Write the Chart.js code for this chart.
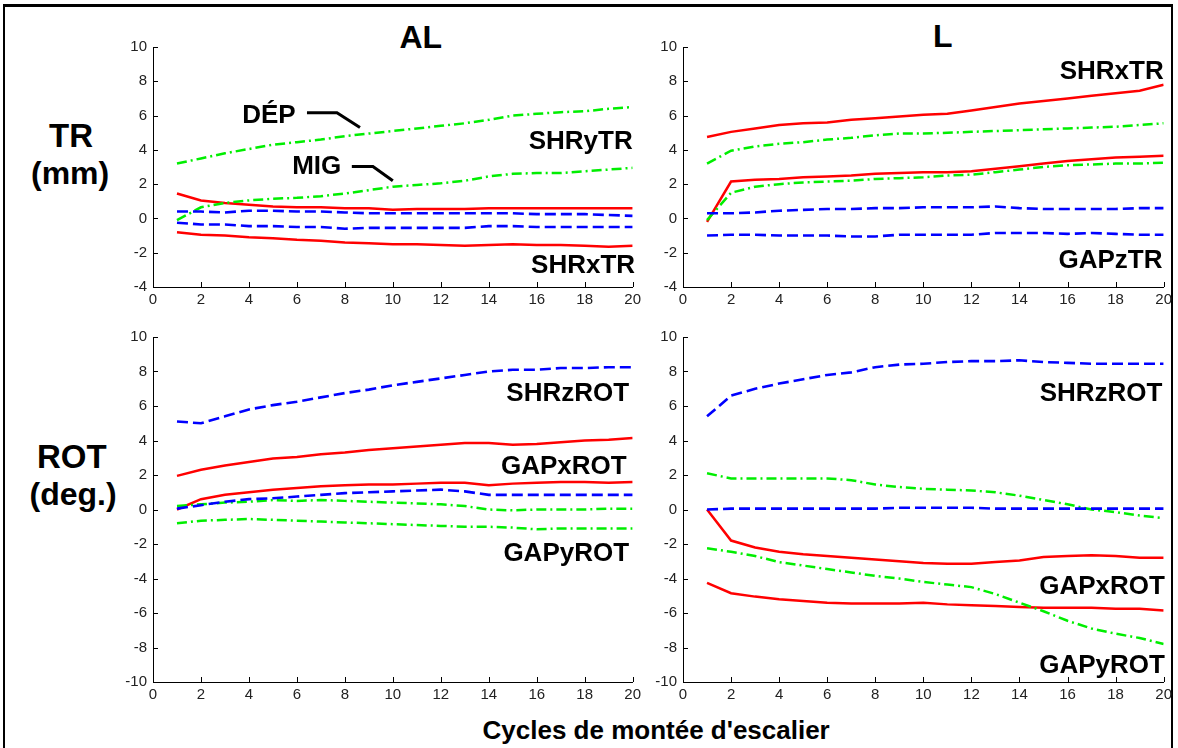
<!DOCTYPE html>
<html><head><meta charset="utf-8">
<script src="https://cdn.jsdelivr.net/npm/chart.js@4.4.0/dist/chart.umd.min.js"></script>
<style>
html,body{margin:0;padding:0;background:#fff;width:1178px;height:748px;overflow:hidden;font-family:"Liberation Sans",Arial,sans-serif;}
#frame{position:absolute;left:3px;top:4px;width:1166px;height:770px;border-top:3px solid #000;border-left:2px solid #000;border-right:2px solid #000;}
canvas{position:absolute;}
.lbl{position:absolute;font-weight:bold;color:#000;white-space:nowrap;line-height:1;}
</style></head><body>
<div id="frame"></div>
<div class="lbl" id="tAL" style="font-size:32px;">AL</div>
<div class="lbl" id="tL" style="font-size:32px;">L</div>
<div class="lbl" id="tTR" style="font-size:33px;">TR</div>
<div class="lbl" id="tMM" style="font-size:32px;">(mm)</div>
<div class="lbl" id="tROT" style="font-size:33px;">ROT</div>
<div class="lbl" id="tDEG" style="font-size:32px;">(deg.)</div>
<div class="lbl" id="tX" style="font-size:26px;">Cycles de montée d'escalier</div>
<canvas id="c1"></canvas><canvas id="c2"></canvas><canvas id="c3"></canvas><canvas id="c4"></canvas>
<script>
// ---------------- DATA ----------------
const cycles = [1,2,3,4,5,6,7,8,9,10,11,12,13,14,15,16,17,18,19,20];
const xTickStep = 2;
const yRangeTR = [-4, 10];
const yRangeROT = [-10, 10];

// AL - TR (mm)
const alTrDep  = [3.2,3.5,3.8,4.05,4.3,4.45,4.6,4.8,4.95,5.1,5.25,5.4,5.55,5.75,6.0,6.1,6.2,6.25,6.4,6.5];
const alTrMig  = [-0.1,0.65,0.9,1.05,1.15,1.2,1.3,1.45,1.65,1.85,1.95,2.05,2.2,2.45,2.6,2.65,2.65,2.75,2.85,2.95];
const alTrRedA = [1.45,1.05,0.9,0.8,0.7,0.65,0.65,0.6,0.6,0.5,0.55,0.55,0.55,0.6,0.6,0.6,0.6,0.6,0.6,0.6];
const alTrRedB = [-0.8,-0.95,-1.0,-1.1,-1.15,-1.25,-1.3,-1.4,-1.45,-1.5,-1.5,-1.55,-1.6,-1.55,-1.5,-1.55,-1.55,-1.6,-1.65,-1.6];
const alTrBlueA= [0.4,0.4,0.35,0.45,0.45,0.4,0.4,0.35,0.3,0.3,0.3,0.3,0.3,0.3,0.3,0.25,0.25,0.25,0.2,0.15];
const alTrBlueB= [-0.25,-0.35,-0.35,-0.45,-0.45,-0.5,-0.5,-0.6,-0.55,-0.55,-0.55,-0.55,-0.55,-0.45,-0.45,-0.5,-0.5,-0.5,-0.5,-0.5];

// L - TR (mm)
const lTrRedA  = [4.75,5.05,5.25,5.45,5.55,5.6,5.75,5.85,5.95,6.05,6.1,6.3,6.5,6.7,6.85,7.0,7.15,7.3,7.45,7.8];
const lTrGreenA= [3.2,3.95,4.2,4.35,4.45,4.6,4.7,4.85,4.95,4.95,5.0,5.05,5.1,5.15,5.2,5.25,5.3,5.35,5.45,5.55];
const lTrRedB  = [-0.2,2.15,2.25,2.3,2.4,2.45,2.5,2.6,2.65,2.7,2.7,2.75,2.9,3.05,3.2,3.35,3.45,3.55,3.6,3.65];
const lTrGreenB= [-0.1,1.5,1.85,2.0,2.1,2.15,2.2,2.3,2.35,2.4,2.5,2.55,2.7,2.85,3.0,3.1,3.15,3.2,3.2,3.25];
const lTrBlueA = [0.3,0.3,0.35,0.45,0.5,0.55,0.55,0.6,0.6,0.65,0.65,0.65,0.7,0.6,0.55,0.55,0.55,0.55,0.6,0.6];
const lTrBlueB = [-1.0,-0.95,-0.95,-1.0,-1.0,-1.0,-1.05,-1.05,-0.95,-0.95,-0.95,-0.95,-0.85,-0.85,-0.85,-0.9,-0.85,-0.9,-0.95,-0.95];

// AL - ROT (deg.)
const alRotBlueA = [5.1,5.0,5.4,5.8,6.05,6.25,6.5,6.75,6.95,7.2,7.4,7.6,7.8,8.0,8.1,8.1,8.2,8.2,8.25,8.25];
const alRotRedA  = [1.95,2.3,2.55,2.75,2.95,3.05,3.2,3.3,3.45,3.55,3.65,3.75,3.85,3.85,3.75,3.8,3.9,4.0,4.05,4.15];
const alRotRedB  = [0.0,0.6,0.85,1.0,1.15,1.25,1.35,1.4,1.45,1.45,1.5,1.55,1.55,1.4,1.5,1.55,1.6,1.6,1.55,1.6];
const alRotBlueB = [0.05,0.25,0.45,0.6,0.65,0.75,0.85,0.95,1.0,1.05,1.1,1.15,1.05,0.85,0.85,0.85,0.85,0.85,0.85,0.85];
const alRotGreenA= [0.2,0.3,0.4,0.45,0.55,0.5,0.55,0.5,0.45,0.4,0.35,0.3,0.2,0.0,-0.05,0.0,0.0,0.0,0.05,0.05];
const alRotGreenB= [-0.8,-0.65,-0.6,-0.55,-0.6,-0.65,-0.7,-0.75,-0.8,-0.85,-0.9,-0.95,-1.0,-1.0,-1.05,-1.15,-1.1,-1.1,-1.1,-1.1];

// L - ROT (deg.)
const lRotBlueA  = [5.4,6.6,7.0,7.3,7.55,7.8,7.95,8.25,8.4,8.45,8.55,8.6,8.6,8.65,8.55,8.5,8.45,8.45,8.45,8.45];
const lRotGreenA = [2.1,1.8,1.8,1.8,1.8,1.8,1.7,1.45,1.3,1.2,1.15,1.1,1.0,0.8,0.55,0.3,0.0,-0.15,-0.35,-0.5];
const lRotBlueB  = [0.0,0.05,0.05,0.05,0.05,0.05,0.05,0.05,0.1,0.1,0.1,0.1,0.05,0.05,0.05,0.05,0.05,0.05,0.05,0.05];
const lRotRedA   = [0.0,-1.8,-2.2,-2.45,-2.6,-2.7,-2.8,-2.9,-3.0,-3.1,-3.15,-3.15,-3.05,-2.95,-2.75,-2.7,-2.65,-2.7,-2.8,-2.8];
const lRotGreenB = [-2.25,-2.45,-2.7,-3.05,-3.25,-3.45,-3.65,-3.85,-4.0,-4.2,-4.35,-4.5,-4.9,-5.4,-5.9,-6.45,-6.9,-7.2,-7.45,-7.8];
const lRotRedB   = [-4.25,-4.85,-5.05,-5.2,-5.3,-5.4,-5.45,-5.45,-5.45,-5.4,-5.5,-5.55,-5.6,-5.65,-5.7,-5.7,-5.7,-5.75,-5.75,-5.85];

// ---------------- STYLES / LAYOUT ----------------
const RED='#ff0000', BLUE='#0000ff', GREEN='#00ee00';
const STY = {
  red:   {borderColor:RED,  borderWidth:2.5, borderDash:[]},
  blue:  {borderColor:BLUE, borderWidth:2.6, borderDash:[11,5]},
  green: {borderColor:GREEN,borderWidth:2.5, borderDash:[10,4,2,4]}
};
const YW=50, XH=26, PT=10, PR=12;
const ANN_FONT = 'bold 26px "Liberation Sans", Arial, sans-serif';

function place(id, left, baseline, size, center){
  const el=document.getElementById(id);
  el.style.top=(baseline-0.847*size)+'px';
  if(center){ el.style.left=(left - el.offsetWidth/2)+'px'; } else el.style.left=left+'px';
}
place('tAL',421,48,32,true);
place('tL',943,47,32,true);
place('tTR',71,147,33,true);
place('tMM',70,184,32,true);
place('tROT',72,468,33,true);
place('tDEG',73,505,32,true);
place('tX',656,739,26,true);

const tickPlugin = {
  id:'inTicks',
  afterDraw(chart){
    const {ctx, chartArea:a, scales:{x,y}} = chart;
    ctx.save(); ctx.strokeStyle='#000'; ctx.lineWidth=1;
    ctx.beginPath();
    x.ticks.forEach(t=>{const p=Math.round(x.getPixelForValue(t.value))+0.5; ctx.moveTo(p,a.bottom); ctx.lineTo(p,a.bottom-5);});
    y.ticks.forEach(t=>{const p=Math.round(y.getPixelForValue(t.value))+0.5; ctx.moveTo(a.left,p); ctx.lineTo(a.left+5,p);});
    ctx.stroke();
    const ann = chart.options.plugins.ann || {};
    ctx.fillStyle='#000'; ctx.font=ANN_FONT; ctx.textAlign='right'; ctx.textBaseline='alphabetic';
    (ann.labels||[]).forEach(l=>{ ctx.fillText(l.text, x.getPixelForValue(l.x), y.getPixelForValue(l.y)); });
    ctx.lineWidth=3; ctx.strokeStyle='#000';
    (ann.pointers||[]).forEach(pts=>{
      ctx.beginPath();
      pts.forEach((p,i)=>{const px=x.getPixelForValue(p[0]), py=y.getPixelForValue(p[1]); i?ctx.lineTo(px,py):ctx.moveTo(px,py);});
      ctx.stroke();
    });
    ctx.restore();
  }
};

function panel(id, area, yr, series, ann){
  const cv=document.getElementById(id);
  const w = YW + (area.r-area.l) + PR, h = PT + (area.b-area.t) + XH;
  cv.width=w; cv.height=h; cv.style.left=(area.l-YW)+'px'; cv.style.top=(area.t-PT)+'px';
  cv.style.width=w+'px'; cv.style.height=h+'px';
  const tickFont={family:'"Liberation Sans Narrow","Liberation Sans",Arial,sans-serif', size:15};
  new Chart(cv,{
    type:'line',
    data:{datasets: series.map(s=>Object.assign({
      data: cycles.map((c,i)=>({x:c,y:s.v[i]})), pointRadius:0, tension:0, fill:false
    }, STY[s.c]))},
    options:{
      responsive:false, animation:false, devicePixelRatio:1,
      layout:{padding:{top:PT,right:PR,left:0,bottom:0}},
      plugins:{legend:{display:false},tooltip:{enabled:false}, ann:ann},
      scales:{
        x:{type:'linear',min:0,max:20,
           ticks:{stepSize:xTickStep,font:tickFont,color:'#222',padding:4,maxRotation:0,autoSkip:false},
           grid:{display:true,drawOnChartArea:false,drawTicks:false},
           border:{display:true,color:'#000',width:1},
           afterFit(s){s.height=XH;}},
        y:{type:'linear',min:yr[0],max:yr[1],
           ticks:{stepSize:2,font:tickFont,color:'#222',padding:6,autoSkip:false},
           grid:{display:true,drawOnChartArea:false,drawTicks:false},
           border:{display:true,color:'#000',width:1},
           afterFit(s){s.width=YW;}}
      }
    },
    plugins:[tickPlugin]
  });
}

panel('c1',{l:153,r:633,t:42,b:287},yRangeTR,[
  {v:alTrBlueA,c:'blue'},{v:alTrBlueB,c:'blue'},
  {v:alTrDep,c:'green'},{v:alTrMig,c:'green'},
  {v:alTrRedA,c:'red'},{v:alTrRedB,c:'red'}
],{labels:[{text:'SHRyTR',x:20,y:4.06},{text:'SHRxTR',x:20.1,y:-3.2},{text:'DÉP',x:5.95,y:5.54},{text:'MIG',x:7.85,y:2.57}],
   pointers:[[[6.42,6.17],[7.67,6.17],[8.63,5.3]],[[8.29,3.03],[9.17,3.03],[10.0,2.2]]]});

panel('c2',{l:683,r:1164,t:42,b:287},yRangeTR,[
  {v:lTrBlueA,c:'blue'},{v:lTrBlueB,c:'blue'},
  {v:lTrGreenA,c:'green'},{v:lTrGreenB,c:'green'},
  {v:lTrRedA,c:'red'},{v:lTrRedB,c:'red'}
],{labels:[{text:'SHRxTR',x:20,y:8.11},{text:'GAPzTR',x:19.95,y:-2.91}]});

panel('c3',{l:153,r:633,t:332,b:682},yRangeROT,[
  {v:alRotBlueA,c:'blue'},{v:alRotBlueB,c:'blue'},
  {v:alRotGreenA,c:'green'},{v:alRotGreenB,c:'green'},
  {v:alRotRedA,c:'red'},{v:alRotRedB,c:'red'}
],{labels:[{text:'SHRzROT',x:19.85,y:6.29},{text:'GAPxROT',x:19.75,y:2.06},{text:'GAPyROT',x:19.85,y:-2.97}]});

panel('c4',{l:683,r:1164,t:332,b:682},yRangeROT,[
  {v:lRotBlueA,c:'blue'},{v:lRotBlueB,c:'blue'},
  {v:lRotGreenA,c:'green'},{v:lRotGreenB,c:'green'},
  {v:lRotRedA,c:'red'},{v:lRotRedB,c:'red'}
],{labels:[{text:'SHRzROT',x:19.95,y:6.29},{text:'GAPxROT',x:20.05,y:-4.91},{text:'GAPyROT',x:20.05,y:-9.49}]});
</script>
</body></html>
